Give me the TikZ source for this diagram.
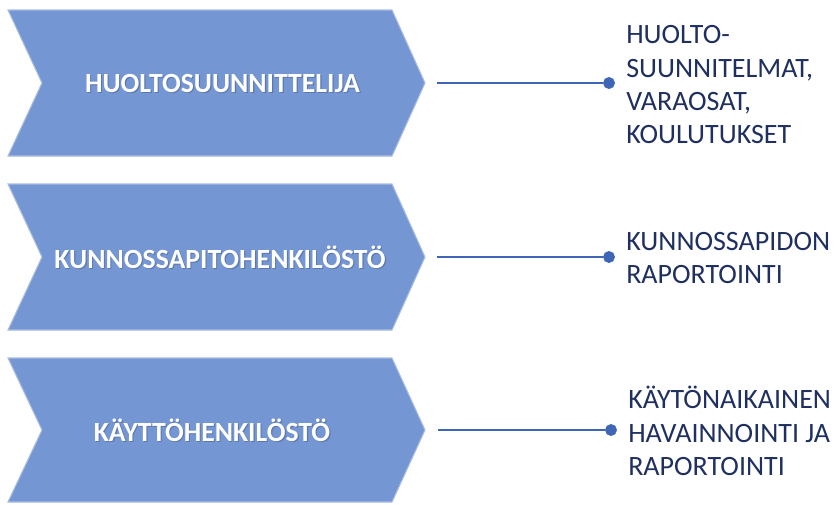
\documentclass[tikz,border=0pt]{standalone}
\usepackage{fontspec}
\setmainfont{Carlito}
\definecolor{chevfill}{HTML}{7496D2}
\definecolor{chevedge}{HTML}{A9BCE3}
\definecolor{linkblue}{HTML}{3F66B6}
\definecolor{navy}{HTML}{1F3060}
\definecolor{glow}{HTML}{4A5F8F}
\begin{document}
\begin{tikzpicture}[x=0.75pt,y=-0.75pt,
  chev/.style={fill=chevfill,draw=chevedge,line width=0.8pt,line join=miter},
  chevtext/.style={text=white,font=\fontsize{20.8}{24}\selectfont\bfseries,inner sep=0pt},
  chevglow/.style={text=glow,opacity=0.55,font=\fontsize{20.8}{24}\selectfont\bfseries,inner sep=0pt},
  link/.style={draw=linkblue,line width=2.1pt},
  dotnode/.style={circle,fill=linkblue,draw=linkblue,inner sep=0pt,minimum size=8.5pt},
  outtext/.style={text=navy,anchor=west,align=left,inner sep=0pt,
    font=\fontsize{21}{25}\selectfont}]
\useasboundingbox (0,0) rectangle (838,504);
% chevrons
\path[chev] (8,10) -- (392,10) -- (425,83) -- (392,156) -- (8,156) -- (42,83) -- cycle;
\path[chev] (8,184) -- (392,184) -- (425,257) -- (392,330) -- (8,330) -- (42,257) -- cycle;
\path[chev] (8,358) -- (392,358) -- (425,430) -- (392,502) -- (8,502) -- (42,430) -- cycle;
% chevron labels (soft glow under white text)
\node[chevglow] at (223.6,84.6) {HUOLTOSUUNNITTELIJA};
\node[chevtext] (c1) at (222.5,83.5) {HUOLTOSUUNNITTELIJA};
\node[chevglow] at (221.1,258.1) {KUNNOSSAPITOHENKILÖSTÖ};
\node[chevtext] (c2) at (220,257) {KUNNOSSAPITOHENKILÖSTÖ};
\node[chevglow] at (213.1,431.1) {KÄYTTÖHENKILÖSTÖ};
\node[chevtext] (c3) at (212,430) {KÄYTTÖHENKILÖSTÖ};
% connector start points
\coordinate (s1) at (437,83);
\coordinate (s2) at (437,257);
\coordinate (s3) at (438,430);
% dots
\node[dotnode] (d1) at (609,83) {};
\node[dotnode] (d2) at (609,257) {};
\node[dotnode] (d3) at (611,430) {};
\draw[link] (s1) -- (d1);
\draw[link] (s2) -- (d2);
\draw[link] (s3) -- (d3);
% outputs
\node[outtext] (o1) at (626,85) {HUOLTO-\\SUUNNITELMAT,\\VARAOSAT,\\KOULUTUKSET};
\node[outtext] (o2) at (626,258) {KUNNOSSAPIDON\\RAPORTOINTI};
\node[outtext] (o3) at (628,431) {KÄYTÖNAIKAINEN\\HAVAINNOINTI JA\\RAPORTOINTI};
\end{tikzpicture}
\end{document}
